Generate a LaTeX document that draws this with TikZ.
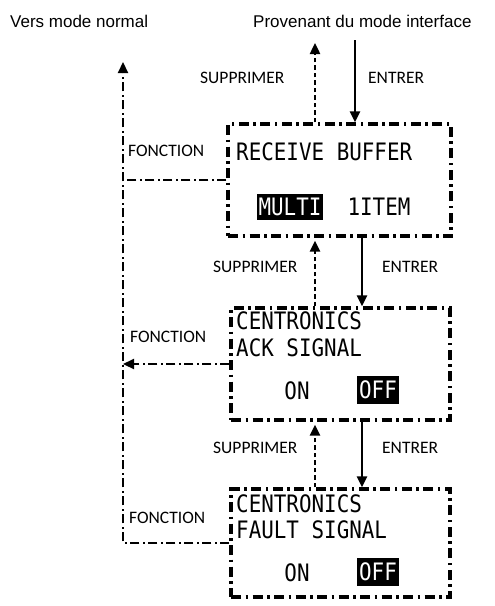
\documentclass[tikz,border=0pt]{standalone}
\usepackage{fontspec}
\setmainfont{Liberation Sans}
\newfontfamily\lcdfont[FakeStretch=0.87]{DejaVu Sans Mono}
\newfontfamily\keyfont{Carlito}
\usetikzlibrary{arrows.meta, positioning}

\begin{document}
\begin{tikzpicture}[x=1pt, y=-1pt,
    screen/.style={draw, line width=3.4pt, dash pattern=on 10pt off 4.5pt on 2.5pt off 4.5pt, inner sep=0pt},
    lcd/.style={font=\lcdfont\fontsize{24}{26}\selectfont, inner sep=0pt},
    inv/.style={lcd, fill=black, text=white, inner xsep=2pt, inner ysep=4.5pt},
    key/.style={font=\keyfont\fontsize{17.5}{20}\selectfont, inner sep=0pt, anchor=base west},
    title/.style={font=\fontsize{17}{20}\selectfont, inner sep=0pt, anchor=base west},
    fn/.style={line width=2.2pt, dash pattern=on 9pt off 3.5pt on 2pt off 3.5pt},
    back/.style={line width=2.4pt, dash pattern=on 4.5pt off 3pt},
    enter/.style={line width=2.6pt},
    tip/.style={-{Triangle[length=11pt,width=10pt]}}]
  \useasboundingbox (0,0) rectangle (495,606);
  \node[screen, minimum width=223pt, minimum height=112pt] (box1) at (339.5,180) {};
  \node[screen, minimum width=219pt, minimum height=112pt] (box2) at (340.5,364) {};
  \node[screen, minimum width=219pt, minimum height=108pt] (box3) at (340.5,543) {};
  \node[lcd, anchor=west] (rb) at (236,152) {RECEIVE BUFFER};
  \node[inv] (multi) at (290,207) {MULTI};
  \node[lcd] (item) at (379,207) {1ITEM};
  \node[lcd, anchor=west] (ack1) at (236,321) {CENTRONICS};
  \node[lcd, anchor=west] (ack2) at (236,348) {ACK SIGNAL};
  \node[lcd] (ackon) at (297,391) {ON};
  \node[inv] (ackoff) at (378,390) {OFF};
  \node[lcd, anchor=west] (flt1) at (236,504) {CENTRONICS};
  \node[lcd, anchor=west] (flt2) at (236,530) {FAULT SIGNAL};
  \node[lcd] (flton) at (297,573) {ON};
  \node[inv] (fltoff) at (378,572) {OFF};
  \node[title] (normal) at (10,27) {Vers mode normal};
  \node[title] (iface) at (253,27) {Provenant du mode interface};
  \node[key] (sup0) at (200,83) {SUPPRIMER};
  \node[key] (ent0) at (368,83) {ENTRER};
  \node[key] (sup1) at (213,272) {SUPPRIMER};
  \node[key] (ent1) at (382,272) {ENTRER};
  \node[key] (sup2) at (213,453) {SUPPRIMER};
  \node[key] (ent2) at (382,453) {ENTRER};
  \node[key] (fn1) at (128,156) {FONCTION};
  \node[key] (fn2) at (130,342) {FONCTION};
  \node[key] (fn3) at (129,523) {FONCTION};
  \coordinate (out) at (123,62);
  \coordinate (corner) at (123,543);
  \coordinate (upcol) at (315,43);
  \coordinate (incol) at (355,40);
  \coordinate (downcol) at (362,0);
  \draw[fn, tip] (box3.west) -- (corner) -- (out);
  \draw[fn] (box1.west) -- (box1.west -| corner);
  \draw[fn, tip] (box2.west) -- (box2.west -| corner);
  \draw[back, tip] (box1.north -| upcol) -- (upcol);
  \draw[enter, tip] (incol) -- (incol |- box1.north);
  \draw[back, tip] (box2.north -| upcol) -- ([yshift=-3pt]box1.south -| upcol);
  \draw[enter, tip] (box1.south -| downcol) -- (box2.north -| downcol);
  \draw[back, tip] (box3.north -| upcol) -- ([yshift=-3pt]box2.south -| upcol);
  \draw[enter, tip] (box2.south -| downcol) -- (box3.north -| downcol);
\end{tikzpicture}
\end{document}
